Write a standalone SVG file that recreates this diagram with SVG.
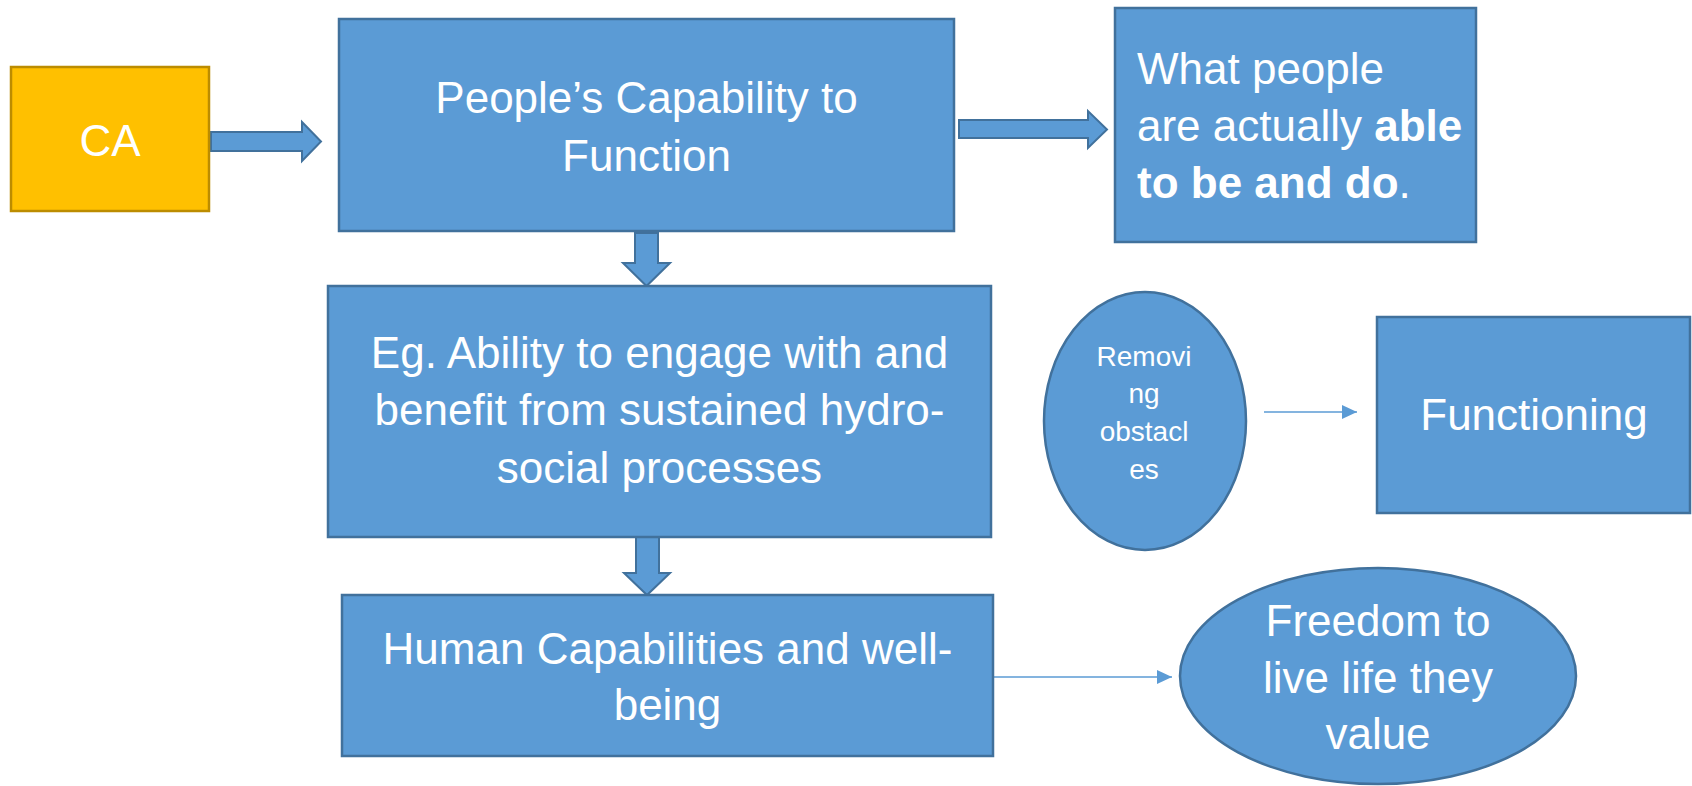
<svg xmlns="http://www.w3.org/2000/svg" width="1692" height="786" viewBox="0 0 1692 786">
<style>
.box{fill:#5B9BD5;stroke:#41719C;stroke-width:2.5}
.ca{fill:#FFC000;stroke:#BC8C00;stroke-width:2.5}
.blk{fill:#5B9BD5;stroke:#41719C;stroke-width:2}
.ln{stroke:#5B9BD5;stroke-width:1.6;fill:none}
.t{font-family:"Liberation Sans",Arial,sans-serif;font-size:44px;fill:#FFFFFF}
.c{text-anchor:middle}
.s{font-size:28px}
.b{font-weight:bold}
</style>
<defs>
<marker id="ah" markerUnits="userSpaceOnUse" markerWidth="16" markerHeight="16" viewBox="0 0 16 16" refX="15" refY="8" orient="auto">
<path d="M0,1 L15,8 L0,15 Z" fill="#5B9BD5"/>
</marker>
</defs>
<g id="connectors">
<polygon class="blk" points="211,132 302,132 302,122 321,141.5 302,161 302,151 211,151"/>
<polygon class="blk" points="959,120 1088,120 1088,111 1107,129.5 1088,148 1088,138 959,138"/>
<polygon class="blk" points="635,233 658,233 658,263 670,263 646.5,286 623,263 635,263"/>
<polygon class="blk" points="636,537 659,537 659,573 670,573 647,595 624,573 636,573"/>
<line class="ln" x1="993" y1="677" x2="1172" y2="677" marker-end="url(#ah)"/>
<line class="ln" x1="1264" y1="412" x2="1357" y2="412" marker-end="url(#ah)"/>
</g>
<g id="node-ca">
<rect class="ca" x="11" y="67" width="198" height="144"/>
<text class="t c" x="110" y="156">CA</text>
</g>
<g id="node-people">
<rect class="box" x="339" y="19" width="615" height="212"/>
<text class="t c" x="646.5" y="113">People’s Capability to</text>
<text class="t c" x="646.5" y="171">Function</text>
</g>
<g id="node-what">
<rect class="box" x="1115" y="8" width="361" height="234"/>
<text class="t" x="1137" y="84">What people</text>
<text class="t" x="1137" y="141">are actually <tspan class="b">able</tspan></text>
<text class="t" x="1137" y="198"><tspan class="b">to be and do</tspan>.</text>
</g>
<g id="node-eg">
<rect class="box" x="328" y="286" width="663" height="251"/>
<text class="t c" x="659.5" y="368">Eg. Ability to engage with and</text>
<text class="t c" x="659.5" y="425">benefit from sustained hydro-</text>
<text class="t c" x="659.5" y="483">social processes</text>
</g>
<g id="node-removing">
<ellipse class="box" cx="1145" cy="421" rx="101" ry="129"/>
<text class="t c s" x="1144" y="366">Removi</text>
<text class="t c s" x="1144" y="403">ng</text>
<text class="t c s" x="1144" y="441">obstacl</text>
<text class="t c s" x="1144" y="479">es</text>
</g>
<g id="node-functioning">
<rect class="box" x="1377" y="317" width="313" height="196"/>
<text class="t c" x="1534" y="430">Functioning</text>
</g>
<g id="node-human">
<rect class="box" x="342" y="595" width="651" height="161"/>
<text class="t c" x="667.5" y="664">Human Capabilities and well-</text>
<text class="t c" x="667.5" y="720">being</text>
</g>
<g id="node-freedom">
<ellipse class="box" cx="1378" cy="676" rx="198" ry="108"/>
<text class="t c" x="1378" y="636">Freedom to</text>
<text class="t c" x="1378" y="693">live life they</text>
<text class="t c" x="1378" y="749">value</text>
</g>
</svg>
